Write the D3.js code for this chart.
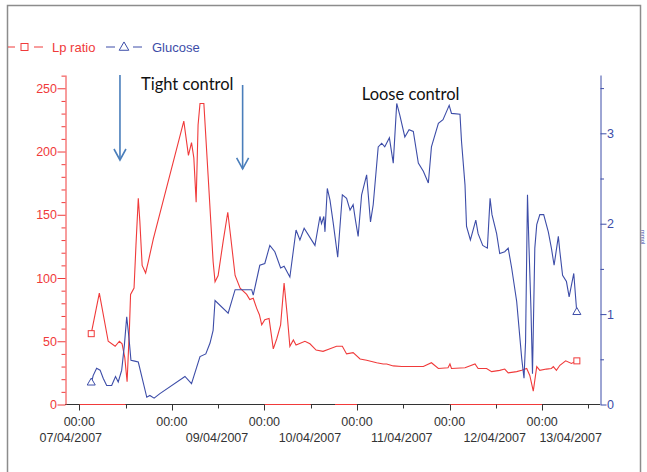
<!DOCTYPE html>
<html>
<head>
<meta charset="utf-8">
<script src="https://cdn.jsdelivr.net/npm/d3@7"></script>
<style>
  body { margin: 0; background: #fff; }
  svg { display: block; }
</style>
</head>
<body>
<div id="chart"></div>
<script>
// hours after 07/04/2007 00:00
const lpHours = [3.1, 5.2, 7.5, 9.3, 10.4, 11.1, 11.8, 12.4, 13.0, 13.3, 14.2, 14.7, 15.3, 15.7, 16.3, 17.2, 17.9, 19.2,
  27.1, 28.3, 29.1, 29.7, 30.3, 30.8, 31.3, 32.3, 33.4, 34.7, 35.2, 36.0, 37.3, 38.5, 39.2, 40.4, 41.7, 43.4, 44.2, 45.1,
  46.0, 46.7, 47.3, 48.1, 49.2, 50.3, 51.2, 52.2, 53.1, 53.9, 54.6, 55.5, 56.2, 58.5, 59.8, 61.4, 63.2, 65.0, 66.7, 68.2,
  69.3, 71.0, 72.8, 74.5, 75.8, 77.1, 78.8, 79.7, 81.4, 83.6, 86.2, 89.2, 91.3, 93.1, 95.6, 96.1, 96.5, 100.0, 102.6,
  103.4, 105.6, 106.9, 109.0, 110.3, 111.2, 113.4, 114.7, 116.0, 116.8, 117.7, 118.6, 119.4, 121.1, 122.4, 122.9, 123.7,
  124.6, 126.1, 127.6, 129.0];
const lpValues = [56, 88, 50, 46, 50, 48, 37, 18, 60, 87, 92, 126, 163, 145, 110, 104, 113, 131,
  224, 197, 207, 195, 160, 221, 238, 238, 181, 113, 97, 102, 129, 152, 134, 102, 92, 87, 83, 84,
  76, 71, 63, 67, 68, 44, 52, 63, 96, 71, 46, 51, 47, 50, 48, 43, 42, 44, 46, 46,
  40, 41, 36, 35, 34, 33, 32, 32, 30.5, 30, 30, 30, 33, 28.5, 29, 32, 28.5, 29, 32,
  28.5, 28.5, 26, 27, 28, 25, 26, 27, 28.5, 23, 10.5, 30, 27, 28, 28.5, 30, 27,
  31, 34.5, 32.5, 34.5];

const gluHours = [3.1, 3.6, 4.5, 5.4, 6.2, 7.1, 8.4, 9.4, 10.1, 11.0, 11.7, 12.3, 12.9, 13.4, 14.4, 15.3, 17.5, 18.3,
  19.4, 20.9, 27.4, 29.1, 31.3, 32.8, 33.9, 34.7, 35.2, 38.6, 40.4, 44.7, 45.1, 46.8, 48.1, 49.4, 50.7, 52.2, 53.1,
  54.6, 56.2, 57.2, 58.3, 61.1, 62.4, 62.8, 63.4, 63.7, 64.3, 65.0, 65.8, 67.0, 68.2, 69.3, 70.2, 71.0, 71.6, 72.3,
  73.2, 74.5, 75.5, 76.2, 77.5, 78.4, 79.2, 80.4, 81.4, 82.3, 83.1, 84.4, 85.5, 86.6, 87.9, 89.2, 90.5, 91.3, 93.1,
  94.3, 95.2, 95.9, 96.5, 98.7, 99.1, 100.0, 100.4, 101.4, 102.8, 103.4, 104.6, 105.8, 106.5, 107.0, 108.2, 109.0,
  110.3, 111.2, 112.1, 113.4, 114.7, 115.3, 115.7, 116.2, 116.6, 117.1, 117.5, 118.1, 118.6, 119.4, 120.4, 121.6,
  122.4, 123.1, 124.2, 124.6, 125.3, 126.3, 127.0, 128.2, 129.0];
const gluValues = [0.23, 0.32, 0.40, 0.38, 0.29, 0.21, 0.21, 0.31, 0.25, 0.38, 0.66, 0.97, 0.73, 0.49, 0.48, 0.47, 0.08, 0.10,
  0.07, 0.12, 0.31, 0.23, 0.53, 0.56, 0.68, 0.82, 1.15, 1.01, 1.27, 1.27, 1.21, 1.54, 1.56, 1.76, 1.69, 1.51, 1.53,
  1.41, 1.93, 1.82, 1.95, 1.76, 2.08, 2.00, 2.08, 1.91, 2.39, 2.26, 2.02, 1.63, 2.32, 2.28, 2.15, 2.21, 2.04, 1.86,
  2.32, 2.54, 2.02, 2.21, 2.85, 2.89, 2.85, 2.95, 2.67, 3.33, 3.20, 2.96, 3.04, 3.02, 2.67, 2.58, 2.45, 2.85, 3.11,
  3.15, 3.24, 3.31, 3.22, 3.21, 2.91, 2.43, 1.97, 1.82, 2.04, 1.89, 1.76, 1.73, 2.28, 2.10, 1.89, 1.67,
  1.69, 1.73, 1.51, 1.14, 0.51, 0.29, 0.69, 2.32, 1.73, 1.06, 0.34, 1.73, 1.99, 2.10, 2.10, 1.91,
  1.73, 1.54, 1.86, 1.69, 1.43, 1.36, 1.19, 1.45, 1.01];

const dayTicks = [0, 24, 48, 72, 96, 120];
const halfDayTicks = [12, 36, 60, 84, 108, 132];
const dateLabels = ["07/04/2007", "09/04/2007", "10/04/2007", "11/04/2007", "12/04/2007", "13/04/2007"];
const dateLabelHours = [-2.2, 35.7, 59.8, 83.6, 107.7, 127.4];
const redAxisSpans = [[0, 12], [48, 60], [66.3, 72], [96, 120]];

const leftTicks = d3.range(0, 261, 10);
const rightTicks = d3.range(0, 3.51, 0.5);

// annotations: [hours, Lp ratio level]
const arrows = [[10.55, 260.5, 193.3], [42.35, 252.6, 186.3]];
const notes = [["Tight control", 28.0, 248.6], ["Loose control", 85.9, 240.7]];

const width = 647, height = 472;
const red = "#f03a3a", blue = "#3d4da8", arrowBlue = "#4a7ebb";
const base = new Date(2007, 3, 7, 0, 0);
const t = h => new Date(base.getTime() + h * 3600e3);

const x = d3.scaleTime().domain([t(-3.7), t(135)]).range([65, 600]);
const yL = d3.scaleLinear().domain([0, 260.5]).range([404.5, 75]);
const yR = d3.scaleLinear().domain([0, 3.645]).range([404.5, 75]);

const svg = d3.select("#chart").append("svg")
    .attr("width", width)
    .attr("height", height)
    .style("font-family", "'Liberation Sans', Arial, sans-serif");

// frame
svg.append("rect")
    .attr("x", 7.5).attr("y", 5.5)
    .attr("width", 633).attr("height", 480)
    .attr("fill", "none").attr("stroke", "#8c8c8c").attr("stroke-width", 1.5);

// legend
const lg = svg.append("g").attr("transform", "translate(0,47)");
lg.append("line").attr("x1", 8).attr("x2", 15).attr("stroke", red);
lg.append("line").attr("x1", 34).attr("x2", 43).attr("stroke", red);
lg.append("rect").attr("x", 21).attr("y", -3.5).attr("width", 7).attr("height", 7)
    .attr("fill", "none").attr("stroke", red);
lg.append("text").attr("x", 52).attr("y", 4.5).attr("fill", red).style("font-size", "13px").text("Lp ratio");
lg.append("line").attr("x1", 106).attr("x2", 115).attr("stroke", blue);
lg.append("line").attr("x1", 133).attr("x2", 142).attr("stroke", blue);
lg.append("path").attr("d", d3.symbol(d3.symbolTriangle, 40)()).attr("transform", "translate(124,0.5)")
    .attr("fill", "none").attr("stroke", blue);
lg.append("text").attr("x", 152).attr("y", 4.5).attr("fill", blue).style("font-size", "13px").text("Glucose");

// x axis
const xg = svg.append("g").attr("transform", "translate(0,404.5)");
xg.append("line").attr("x1", 65).attr("x2", 600).attr("stroke", "#333");
xg.selectAll(".red").data(redAxisSpans).join("line")
    .attr("x1", d => x(t(d[0]))).attr("x2", d => x(t(d[1])))
    .attr("stroke", red);
xg.selectAll(".maj").data(dayTicks).join("line")
    .attr("x1", d => Math.round(x(t(d))) + 0.5).attr("x2", d => Math.round(x(t(d))) + 0.5)
    .attr("y2", 6).attr("stroke", "#333");
xg.selectAll(".min").data(halfDayTicks).join("line")
    .attr("x1", d => Math.round(x(t(d))) + 0.5).attr("x2", d => Math.round(x(t(d))) + 0.5)
    .attr("y2", 4).attr("stroke", "#333");
xg.selectAll(".hh").data(dayTicks).join("text")
    .attr("x", d => x(t(d))).attr("y", 21.5)
    .attr("text-anchor", "middle").attr("fill", "#333").style("font-size", "12.5px")
    .text("00:00");
xg.selectAll(".dd").data(dateLabels).join("text")
    .attr("x", (d, i) => x(t(dateLabelHours[i]))).attr("y", 37.5)
    .attr("text-anchor", "middle").attr("fill", "#333").style("font-size", "12.5px")
    .text(d => d);

// left axis
const la = svg.append("g").attr("transform", "translate(65.5,0)")
    .call(d3.axisLeft(yL).tickValues(leftTicks).tickSizeOuter(0)
      .tickFormat(d => d % 50 === 0 ? d : ""));
la.select(".domain").attr("stroke", red);
la.selectAll(".tick line").attr("stroke", red).attr("x2", d => d % 50 === 0 ? -8 : -4);
la.selectAll(".tick text").attr("x", -8.5).attr("fill", red)
    .style("font-size", "12.5px").style("font-family", "'Liberation Sans', Arial, sans-serif");

// right axis
const ra = svg.append("g").attr("transform", "translate(600.5,0)")
    .call(d3.axisRight(yR).tickValues(rightTicks).tickSizeOuter(0)
      .tickFormat(d => Number.isInteger(d) ? d : ""));
ra.select(".domain").attr("stroke", blue);
ra.selectAll(".tick line").attr("stroke", blue).attr("x2", d => Number.isInteger(d) ? 6 : 3.5);
ra.selectAll(".tick text").attr("x", 6.5).attr("fill", blue)
    .style("font-size", "12.5px").style("font-family", "'Liberation Sans', Arial, sans-serif");
svg.append("text")
    .attr("transform", "translate(641,237) rotate(90)")
    .attr("text-anchor", "middle").attr("fill", blue)
    .style("font-size", "6px").text("mmol");

// series
const lp = lpHours.map((h, i) => [t(h), lpValues[i]]);
const glu = gluHours.map((h, i) => [t(h), gluValues[i]]);

svg.append("path").datum(lp)
    .attr("fill", "none").attr("stroke", red).attr("stroke-width", 1.1)
    .attr("d", d3.line().x(d => x(d[0])).y(d => yL(d[1])));
svg.append("path").datum(glu)
    .attr("fill", "none").attr("stroke", blue).attr("stroke-width", 1.1)
    .attr("d", d3.line().x(d => x(d[0])).y(d => yR(d[1])));

[lp[0], lp[lp.length - 1]].forEach(d => {
  svg.append("rect")
      .attr("x", x(d[0]) - 3).attr("y", yL(d[1]) - 3)
      .attr("width", 6).attr("height", 6)
      .attr("fill", "#fff").attr("stroke", red);
});
[glu[0], glu[glu.length - 1]].forEach(d => {
  svg.append("path")
      .attr("d", d3.symbol(d3.symbolTriangle, 28)())
      .attr("transform", `translate(${x(d[0])},${yR(d[1]) - 1})`)
      .attr("fill", "#fff").attr("stroke", blue);
});

// annotations
arrows.forEach(a => {
  const ax = x(t(a[0])), y0 = yL(a[1]), y1 = yL(a[2]);
  svg.append("line").attr("x1", ax).attr("x2", ax).attr("y1", y0).attr("y2", y1)
      .attr("stroke", arrowBlue).attr("stroke-width", 1.6);
  svg.append("path")
      .attr("d", `M${ax - 6},${y1 - 11}L${ax},${y1}L${ax + 6},${y1 - 11}`)
      .attr("fill", "none").attr("stroke", arrowBlue).attr("stroke-width", 1.6);
});
notes.forEach(n => {
  svg.append("text")
      .attr("x", x(t(n[1]))).attr("y", yL(n[2]))
      .attr("text-anchor", "middle").attr("fill", "#111")
      .style("font-family", "Lato, 'Open Sans', sans-serif").style("font-size", "16.5px")
      .text(n[0]);
});
</script>
</body>
</html>
